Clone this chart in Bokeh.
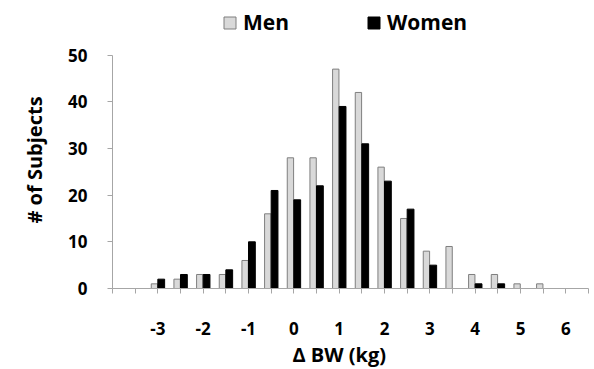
from bokeh.plotting import figure
from bokeh.models import Range1d, FixedTicker, Legend, LegendItem, Title, ColumnDataSource
from bokeh.transform import dodge
from bokeh.embed import file_html
from bokeh.resources import INLINE

# Data
bins = [-3, -2.5, -2, -1.5, -1, -0.5, 0, 0.5, 1, 1.5, 2, 2.5, 3, 3.5, 4, 4.5, 5, 5.5]
men = [1, 2, 3, 3, 6, 16, 28, 28, 47, 42, 26, 15, 8, 9, 3, 3, 1, 1]
women = [2, 3, 3, 4, 10, 21, 19, 22, 39, 31, 23, 17, 5, 0, 1, 1, 0, 0]
x_ticks = [-4, -3.5, -3, -2.5, -2, -1.5, -1, -0.5, 0, 0.5, 1, 1.5, 2, 2.5, 3, 3.5, 4, 4.5, 5, 5.5, 6, 6.5]
x_tick_labels = ["-3", "-2", "-1", "0", "1", "2", "3", "4", "5", "6"]
y_ticks = [0, 10, 20, 30, 40, 50]

FONT = "Open Sans"
AXIS_COLOR = "#a6a6a6"

src = ColumnDataSource(dict(x=bins, men=men, women=women))

# frame reaches the top of the figure so the legend can sit inside it;
# the y axis line itself is bounded to 0..50
p = figure(width=594, height=369, output_backend="svg", toolbar_location=None,
           x_range=Range1d(-4, 6.5), y_range=Range1d(0, 61.7),
           min_border_left=110, min_border_right=6, min_border_top=0, min_border_bottom=79)
p.outline_line_color = None
p.xgrid.visible = False
p.ygrid.visible = False
p.background_fill_color = "white"
p.border_fill_color = "white"

rm = p.vbar(x=dodge("x", -0.075, range=p.x_range), top="men", width=0.14, source=src,
            fill_color="#d9d9d9", line_color="#7f7f7f", line_width=1)
rw = p.vbar(x=dodge("x", 0.075, range=p.x_range), top="women", width=0.15, source=src,
            fill_color="black", line_color="black", line_width=1)

# X axis
overrides = {}
for t in x_ticks:
    overrides[t] = ""
for lab in x_tick_labels:
    overrides[int(lab)] = lab
p.xaxis.ticker = FixedTicker(ticks=x_ticks, minor_ticks=[])
p.xaxis.major_label_overrides = overrides
p.xaxis.axis_line_color = AXIS_COLOR
p.xaxis.major_tick_line_color = AXIS_COLOR
p.xaxis.major_tick_in = 0
p.xaxis.major_tick_out = 5
p.xaxis.minor_tick_line_color = None
p.xaxis.major_label_standoff = 28
p.xaxis.major_label_text_font = FONT
p.xaxis.major_label_text_font_style = "bold"
p.xaxis.major_label_text_font_size = "17px"
p.xaxis.major_label_text_color = "black"

# Y axis
p.yaxis.ticker = FixedTicker(ticks=y_ticks, minor_ticks=[])
p.yaxis.bounds = (y_ticks[0], y_ticks[-1])
p.yaxis.axis_line_color = AXIS_COLOR
p.yaxis.major_tick_line_color = AXIS_COLOR
p.yaxis.major_tick_in = 0
p.yaxis.major_tick_out = 5
p.yaxis.minor_tick_line_color = None
p.yaxis.major_label_standoff = 20
p.yaxis.major_label_text_font = FONT
p.yaxis.major_label_text_font_style = "bold"
p.yaxis.major_label_text_font_size = "17px"
p.yaxis.major_label_text_color = "black"

# Axis titles
p.add_layout(Title(text="# of Subjects", align="left", offset=65, standoff=36,
                   text_font=FONT, text_font_style="bold", text_font_size="20px",
                   text_color="black"), "left")
p.add_layout(Title(text="\u0394 BW (kg)", align="left", offset=180, standoff=3,
                   text_font=FONT, text_font_style="bold", text_font_size="20px",
                   text_color="black"), "below")

legend = Legend(items=[LegendItem(label="Men", renderers=[rm]), LegendItem(label="Women", renderers=[rw])],
                orientation="horizontal", location=(110, 252))
legend.padding = 0
legend.margin = 0
legend.border_line_color = None
legend.background_fill_alpha = 0
legend.glyph_width = 15
legend.glyph_height = 15
legend.label_standoff = 6
legend.spacing = 77
legend.label_text_font = FONT
legend.label_text_font_style = "bold"
legend.label_text_font_size = "21px"
legend.label_text_color = "black"
p.add_layout(legend)

open("out.html", "w").write(file_html(p, INLINE))
